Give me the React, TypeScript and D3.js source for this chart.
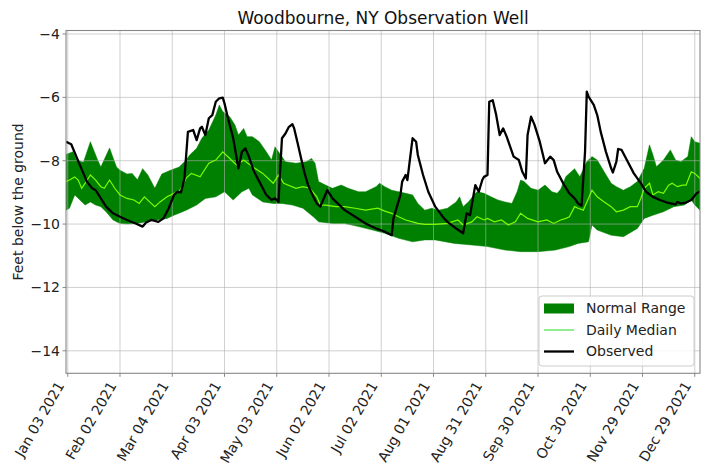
import React from "react";
import * as d3 from "d3";

// ---- data (day-of-year 2021, feet) ----
const upperEdge: [number, number][] = [
  [2,-7.80],[6,-7.72],[8,-7.98],[12,-8.05],[16,-7.40],[20,-7.95],[22,-8.20],[27,-7.60],[31,-8.20],[33,-8.30],
  [37,-8.42],[40,-8.40],[43,-8.60],[46,-8.25],[49,-8.45],[53,-8.87],[57,-8.42],[62,-8.30],[67,-8.20],[71,-7.98],
  [73,-7.82],[77,-7.61],[80,-7.29],[84,-7.03],[88,-6.56],[90,-6.24],[92,-6.45],[96,-6.61],[99,-6.87],[101,-7.19],
  [104,-6.98],[106,-7.24],[109,-7.24],[113,-7.40],[117,-7.72],[120,-7.98],[122,-7.56],[124,-7.72],[128,-8.03],[134,-8.08],
  [140,-8.03],[143,-7.93],[145,-8.08],[147,-8.66],[151,-8.77],[155,-8.87],[160,-8.77],[164,-8.87],[170,-8.98],[174,-8.98],
  [180,-8.82],[182,-8.71],[185,-8.82],[189,-8.93],[193,-8.98],[197,-9.03],[201,-9.08],[204,-9.35],[208,-9.56],[212,-9.50],
  [216,-9.56],[221,-9.50],[226,-9.30],[228,-9.14],[230,-9.45],[233,-9.30],[237,-9.03],[238,-8.98],[242,-9.03],[246,-9.14],
  [250,-9.24],[254,-9.30],[258,-9.35],[261,-8.98],[263,-8.61],[265,-8.66],[269,-8.87],[273,-8.93],[277,-8.77],[281,-8.98],
  [284,-9.03],[286,-8.90],[289,-8.50],[294,-8.25],[297,-8.51],[301,-8.03],[304,-7.87],[307,-7.98],[311,-8.35],[315,-8.71],
  [318,-8.82],[322,-8.93],[326,-8.82],[330,-8.66],[334,-8.24],[337,-7.50],[339,-7.82],[341,-8.19],[345,-7.98],[349,-7.66],
  [352,-7.98],[355,-8.03],[359,-7.87],[361,-7.24],[363,-7.40],[366,-7.45]
];

const lowerEdge: [number, number][] = [
  [2,-9.56],[4,-9.50],[7,-9.08],[10,-9.24],[13,-9.40],[16,-9.30],[19,-9.40],[22,-9.45],[25,-9.61],[29,-9.87],
  [33,-9.98],[37,-10.00],[43,-9.98],[48,-9.93],[54,-9.87],[60,-9.82],[64,-9.72],[69,-9.61],[71,-9.56],[77,-9.40],
  [82,-9.19],[88,-9.14],[93,-8.98],[98,-9.24],[103,-8.98],[107,-8.87],[109,-9.08],[115,-9.30],[121,-9.35],[126,-9.35],
  [132,-9.40],[138,-9.50],[144,-9.77],[147,-9.93],[155,-9.98],[162,-9.98],[170,-10.08],[178,-10.19],[185,-10.29],[193,-10.45],
  [201,-10.56],[208,-10.50],[214,-10.50],[225,-10.61],[235,-10.66],[244,-10.71],[254,-10.82],[263,-10.87],[273,-10.87],[283,-10.82],
  [291,-10.71],[296,-10.61],[302,-10.56],[304,-10.03],[307,-10.19],[315,-10.35],[322,-10.40],[330,-10.14],[334,-9.82],[339,-9.72],
  [345,-9.61],[351,-9.45],[357,-9.40],[361,-9.24],[363,-9.40],[366,-9.56]
];

const dailyMedian: [number, number][] = [
  [2,-8.66],[4,-8.61],[7,-8.51],[9,-8.61],[11,-8.87],[13,-8.71],[16,-8.45],[19,-8.61],[22,-8.82],[24,-8.87],
  [27,-8.61],[30,-8.87],[33,-9.08],[37,-9.19],[41,-9.24],[44,-9.35],[47,-9.14],[50,-9.30],[53,-9.45],[56,-9.30],
  [60,-9.14],[64,-9.03],[67,-8.98],[71,-8.55],[74,-8.40],[79,-8.51],[84,-8.08],[88,-7.98],[92,-7.72],[96,-7.93],
  [100,-8.14],[104,-7.98],[109,-8.19],[115,-8.40],[121,-8.71],[124,-8.45],[127,-8.71],[134,-8.87],[138,-8.82],[142,-8.87],
  [146,-9.14],[148,-9.40],[151,-9.40],[157,-9.45],[162,-9.45],[168,-9.50],[174,-9.56],[181,-9.50],[185,-9.59],[189,-9.66],
  [193,-9.77],[197,-9.87],[201,-9.93],[204,-9.98],[208,-10.01],[214,-10.01],[221,-9.98],[227,-9.87],[230,-10.03],[235,-9.93],
  [238,-9.77],[242,-9.87],[244,-9.82],[248,-9.93],[252,-9.87],[256,-10.03],[260,-9.93],[263,-9.66],[267,-9.82],[273,-9.93],
  [278,-9.87],[282,-9.98],[286,-9.87],[289,-9.82],[291,-9.77],[294,-9.45],[296,-9.50],[299,-9.56],[304,-8.93],[307,-9.14],
  [311,-9.30],[315,-9.45],[318,-9.61],[322,-9.56],[326,-9.45],[330,-9.45],[332,-9.19],[334,-8.87],[337,-8.71],[339,-9.08],
  [342,-8.98],[345,-9.03],[348,-8.77],[350,-8.71],[353,-8.82],[356,-8.77],[358,-8.77],[361,-8.35],[363,-8.40],[366,-8.56]
];

const observed: [number, number][] = [
  [2,-7.40],[5,-7.48],[10,-8.14],[14,-8.66],[17,-8.87],[19,-8.93],[22,-9.19],[25,-9.45],[29,-9.66],[33,-9.77],
  [37,-9.87],[42,-9.98],[46,-10.08],[48,-9.95],[51,-9.87],[55,-9.93],[58,-9.82],[61,-9.50],[64,-9.08],[66,-8.98],
  [68,-9.00],[70,-8.56],[72,-7.09],[75,-7.03],[77,-7.35],[79,-6.98],[80,-6.93],[82,-7.19],[84,-6.66],[86,-6.56],
  [88,-6.14],[90,-6.03],[92,-6.01],[93,-6.19],[95,-6.66],[98,-7.29],[100,-7.93],[101,-8.24],[103,-7.72],[105,-7.61],
  [107,-7.87],[110,-8.35],[113,-8.66],[117,-9.08],[120,-9.24],[122,-9.19],[124,-9.30],[125,-8.24],[126,-7.29],[128,-7.14],
  [130,-6.93],[132,-6.85],[133,-6.98],[135,-7.45],[137,-7.93],[139,-8.40],[141,-8.77],[144,-9.14],[146,-9.35],[148,-9.45],
  [152,-8.93],[155,-9.19],[159,-9.40],[162,-9.56],[168,-9.77],[174,-9.98],[180,-10.14],[185,-10.24],[189,-10.35],[190,-9.82],
  [192,-9.45],[194,-9.08],[195,-8.66],[197,-8.45],[198,-8.61],[200,-7.72],[201,-7.29],[203,-7.40],[204,-7.82],[207,-8.45],
  [210,-8.98],[214,-9.45],[219,-9.82],[221,-9.93],[226,-10.14],[230,-10.29],[231,-9.98],[232,-9.66],[234,-9.72],[236,-9.08],
  [237,-8.77],[239,-8.98],[241,-8.61],[242,-8.51],[244,-8.45],[245,-6.14],[247,-6.09],[249,-6.56],[251,-7.19],[253,-6.98],
  [255,-7.24],[259,-7.87],[262,-7.98],[264,-8.35],[266,-8.56],[267,-7.19],[269,-6.61],[271,-6.87],[274,-7.40],[277,-8.08],
  [280,-7.87],[282,-7.98],[284,-8.35],[288,-8.77],[291,-9.03],[294,-9.19],[296,-9.35],[298,-9.42],[300,-7.72],[301,-5.82],
  [302,-5.98],[305,-6.24],[307,-6.56],[309,-7.09],[312,-7.72],[315,-8.24],[316,-8.37],[318,-8.03],[319,-7.63],[321,-7.66],
  [324,-7.98],[328,-8.40],[332,-8.71],[335,-8.98],[339,-9.14],[343,-9.24],[347,-9.32],[352,-9.38],[353,-9.30],[355,-9.35],
  [358,-9.32],[361,-9.24],[364,-9.03],[366,-8.96]
];

const yTicks = [-14, -12, -10, -8, -6, -4];
const xTickDates = ["2021-01-03","2021-02-02","2021-03-04","2021-04-03","2021-05-03","2021-06-02","2021-07-02",
  "2021-08-01","2021-08-31","2021-09-30","2021-10-30","2021-11-29","2021-12-29"];
const legendLabels = ["Normal Range", "Daily Median", "Observed"];
const titleText = "Woodbourne, NY Observation Well";
const yLabelText = "Feet below the ground";

const W = 702, H = 471;
const L = 66, R = 700, T = 30.5, B = 373.3;
const FONT = "DejaVu Sans, sans-serif";
const BAND = "#008000";
const MEDIAN = "#7CFC00";
const GRID = "#b0b0b0";
const SPINE = "#888888";

const dayToDate = (d: number) => new Date(2021, 0, d);
const parse = d3.timeParse("%Y-%m-%d");
const fmt = d3.timeFormat("%b %d %Y");

export default function App() {
  const x = d3.scaleTime().domain([new Date(2021, 0, 2), new Date(2022, 0, 1)]).range([L, R]);
  const y = d3.scaleLinear().domain([-14.71, -3.89]).range([B, T]);

  const line = d3.line<[number, number]>().x((p) => x(dayToDate(p[0]))).y((p) => y(p[1]));
  const bandPath = line([...upperEdge, ...lowerEdge.slice().reverse()]) + "Z";
  const medianPath = line(dailyMedian) || "";
  const obsPath = line(observed) || "";

  const xt = xTickDates.map((s) => parse(s) as Date);

  return (
    <svg width={W} height={H} style={{ position: "absolute", left: 0, top: 0, background: "#fff" }} fontFamily={FONT}>
      <defs>
        <clipPath id="plot">
          <rect x={L} y={T} width={R - L} height={B - T} />
        </clipPath>
      </defs>
      <rect x={0} y={0} width={W} height={H} fill="#fff" />
      <g clipPath="url(#plot)">
        <path d={bandPath} fill={BAND} stroke={BAND} strokeWidth={0.5} />
        {yTicks.map((t) => (
          <line key={"gy" + t} x1={L} x2={R} y1={y(t)} y2={y(t)} stroke={GRID} strokeOpacity={0.6} strokeWidth={1} />
        ))}
        {xt.map((d, i) => (
          <line key={"gx" + i} x1={x(d)} x2={x(d)} y1={T} y2={B} stroke={GRID} strokeOpacity={0.6} strokeWidth={1} />
        ))}
        <path d={medianPath} fill="none" stroke={MEDIAN} strokeWidth={1.2} />
        <path d={obsPath} fill="none" stroke="#000" strokeWidth={2.3} strokeLinejoin="round" />
      </g>
      <rect x={L} y={T} width={R - L} height={B - T} fill="none" stroke={SPINE} strokeWidth={1.1} />
      {yTicks.map((t) => (
        <g key={"ty" + t}>
          <line x1={L - 3.5} x2={L} y1={y(t)} y2={y(t)} stroke={SPINE} strokeWidth={1} />
          <text x={L - 6} y={y(t)} dy="0.36em" textAnchor="end" fontSize={14} fill="#222">
            {"\u2212" + Math.abs(t)}
          </text>
        </g>
      ))}
      {xt.map((d, i) => (
        <g key={"tx" + i}>
          <line x1={x(d)} x2={x(d)} y1={B} y2={B + 3.5} stroke={SPINE} strokeWidth={1} />
          <text transform={`translate(${x(d) - 3},${B + 12}) rotate(-60)`} textAnchor="end" fontSize={14} fill="#222">
            {fmt(d)}
          </text>
        </g>
      ))}
      <text x={(L + R) / 2} y={24} textAnchor="middle" fontSize={17} fill="#111">{titleText}</text>
      <text transform={`translate(23,${(T + B) / 2}) rotate(-90)`} textAnchor="middle" fontSize={14} fill="#222">
        {yLabelText}
      </text>
      <g>
        <rect x={539} y={296} width={155} height={70} rx={3} fill="#fff" fillOpacity={0.8} stroke="#cccccc" strokeWidth={1} />
        <rect x={544} y={303.5} width={30} height={10} fill={BAND} />
        <line x1={544} x2={574} y1={330} y2={330} stroke="#90EE90" strokeWidth={2} />
        <line x1={544} x2={574} y1={351.5} y2={351.5} stroke="#000" strokeWidth={2.3} />
        {legendLabels.map((s, i) => (
          <text key={s} x={586} y={313 + i * 21.5} fontSize={14} fill="#222">{s}</text>
        ))}
      </g>
    </svg>
  );
}
